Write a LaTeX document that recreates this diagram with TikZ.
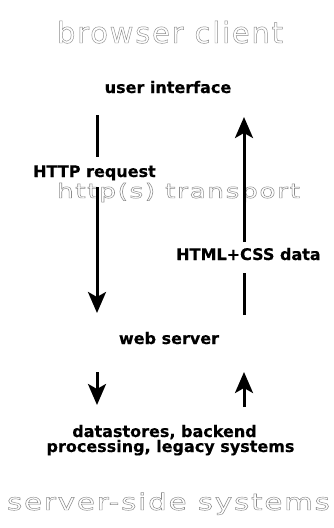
\documentclass[tikz,border=0pt]{standalone}
\usepackage{fontspec}
\usepackage{graphicx}
\setmainfont{DejaVu Sans}
\newfontfamily\thinfont{DejaVu Sans}[LetterSpace=6]
\newfontfamily\lblfont{DejaVu Sans Bold}[FakeBold=0.4]
\usetikzlibrary{arrows.meta}

% hollow (stroked) tier captions, stretched to a given width
\newcommand\zonetext[3]{\resizebox{#1}{\height}{%
  \special{pdf:literal 1 Tr 0.45 w}%
  \fontsize{#2}{#2}\selectfont\thinfont #3%
  \special{pdf:literal 0 Tr}}}

\tikzset{
  lbl/.style={inner sep=0pt, anchor=base, font=\lblfont\fontsize{16}{16}\selectfont},
  zone/.style={inner sep=0pt, anchor=base, text=black!45},
  seg/.style={line width=3pt},
  flow/.style={seg, -{Stealth[length=21pt,width=18pt,inset=5pt]}},
}

\begin{document}
\begin{tikzpicture}[x=1pt,y=-1pt]
\useasboundingbox (0,0) rectangle (333,528);
\fill[white] (0,0) rectangle (333,528);

% tier captions
\node[zone] (client)     at (170,43)    {\zonetext{226pt}{29}{browser client}};
\node[zone] (transport)  at (178.5,198) {\zonetext{243pt}{20}{http(s) transport}};
\node[zone] (serverside) at (168.5,510) {\zonetext{323pt}{23}{server-side systems}};

% components and messages
\node[lbl] (ui)     at (168,93)    {user interface};
\node[lbl] (req)    at (94.5,177)  {HTTP request};
\node[lbl] (resp)   at (248.5,260) {HTML+CSS data};
\node[lbl] (web)    at (169,344)   {web server};
\node[lbl] (store1) at (164.5,437) {datastores, backend};
\node[lbl] (store2) at (170.5,452) {processing, legacy systems};

% request path (left) and response path (right)
\coordinate (reqTop)  at (97,115);
\coordinate (reqA)    at (97,157);
\coordinate (reqB)    at (97,187);
\coordinate (reqEnd)  at (97,313);
\coordinate (respTip) at (244,117);
\coordinate (respA)   at (244,242);
\coordinate (respB)   at (244,273);
\coordinate (respBot) at (244,315);

\draw[seg]  (reqTop) -- (reqA);
\draw[flow] (reqB) -- (reqEnd);
\draw[seg]  (respBot) -- (respB);
\draw[flow] (respA) -- (respTip);

% web server <-> backend systems
\coordinate (dbDownTop) at (97,372);
\coordinate (dbDownTip) at (97,405);
\coordinate (dbUpBot)   at (244,407);
\coordinate (dbUpTip)   at (244,372);
\draw[flow] (dbDownTop) -- (dbDownTip);
\draw[flow] (dbUpBot) -- (dbUpTip);
\end{tikzpicture}
\end{document}
